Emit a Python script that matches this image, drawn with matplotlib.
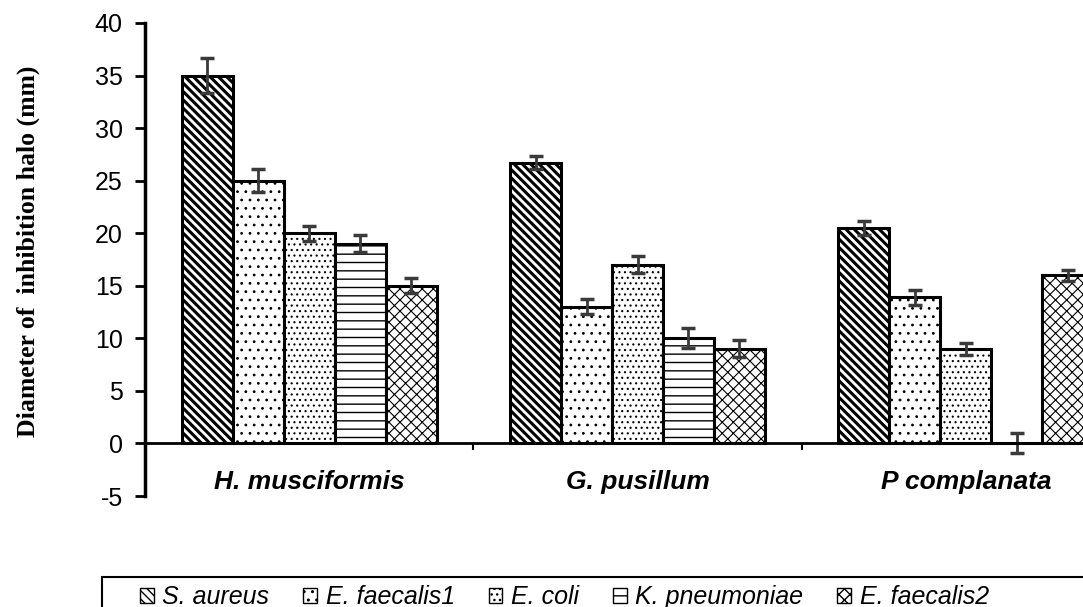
import numpy as np
import matplotlib
matplotlib.use("Agg")
import matplotlib.pyplot as plt
from matplotlib.patches import Rectangle

# data
species = ["H. musciformis", "G. pusillum", "P complanata"]
strains = ["S. aureus", "E. faecalis1", "E. coli", "K. pneumoniae", "E. faecalis2"]
s_aureus = [35, 26.7, 20.5]
e_faecalis1 = [25, 13, 13.9]
e_coli = [20, 17, 9]
k_pneumoniae = [19, 10, 0]
e_faecalis2 = [15, 9, 16]
s_aureus_err = [1.7, 0.6, 0.7]
e_faecalis1_err = [1.1, 0.7, 0.7]
e_coli_err = [0.7, 0.8, 0.6]
k_pneumoniae_err = [0.8, 0.95, 0.95]
e_faecalis2_err = [0.7, 0.8, 0.5]

values = [s_aureus, e_faecalis1, e_coli, k_pneumoniae, e_faecalis2]
errors = [s_aureus_err, e_faecalis1_err, e_coli_err, k_pneumoniae_err, e_faecalis2_err]
hatches = ["\\\\\\\\", "..", "...", "--", "xxx"]
hatch_lw = [2.2, 0.8, 0.8, 1.0, 0.8]

plt.rcParams["font.family"] = ["Liberation Sans", "DejaVu Sans"]
plt.rcParams["axes.unicode_minus"] = False

fig = plt.figure(figsize=(10.83, 6.07), dpi=100)
# axes run past the right edge, like the cropped original
ax = fig.add_axes([145 / 1083, 111 / 607, 985 / 1083, 473 / 607])

x = np.arange(len(species))
w = 0.1553
for i, (vals, errs) in enumerate(zip(values, errors)):
    pos = x + (i - 2) * w
    with plt.rc_context({"hatch.linewidth": hatch_lw[i]}):
        bars = ax.bar(pos, vals, w, yerr=errs, color="white", edgecolor="black",
                      linewidth=2.2, hatch=hatches[i], label=strains[i],
                      error_kw=dict(ecolor="#3a3a3a", elinewidth=2, capsize=5,
                                    capthick=2.5))
    for b in bars:
        if hasattr(b, "set_hatch_linewidth"):
            b.set_hatch_linewidth(hatch_lw[i])

ax.set_xlim(-0.5, 2.5)
ax.set_ylim(-5, 40)
ax.set_yticks(range(-5, 41, 5))
ax.tick_params(axis="y", labelsize=18, length=7, width=2, pad=9)

ax.spines["top"].set_visible(False)
ax.spines["right"].set_visible(False)
ax.spines["left"].set_linewidth(2.5)
ax.spines["bottom"].set_position(("data", 0))
ax.spines["bottom"].set_linewidth(2)
ax.set_xticks([0.5, 1.5])
ax.set_xticklabels([])
ax.tick_params(axis="x", length=5, width=1.5, direction="out")

for xi, name in zip(x, species):
    ax.text(xi, -3.65, name, ha="center", va="center", fontsize=19,
            fontweight="bold", fontstyle="italic")

fig.text(28 / 1083, 0.5865, "Diameter of  inhibition halo (mm)", rotation=90,
         ha="center", va="center", fontsize=18.5, fontweight="bold",
         family="Liberation Serif")

# legend box runs off the figure too
fig.patches.append(Rectangle((102 / 1083, -0.1), 1.2, 0.1 + 30 / 607,
                             transform=fig.transFigure, fill=False,
                             edgecolor="black", linewidth=1.5))
leg = fig.legend(loc="center left", bbox_to_anchor=(140 / 1083, 1 - 597 / 607),
                 ncol=5, frameon=False, fontsize=18, handlelength=0.55,
                 handleheight=0.55, handletextpad=0.35, columnspacing=1.35,
                 borderpad=0, borderaxespad=0)
for t in leg.get_texts():
    t.set_fontstyle("italic")
for p in leg.get_patches():
    p.set_linewidth(1)

fig.savefig("out.png", dpi=100)
